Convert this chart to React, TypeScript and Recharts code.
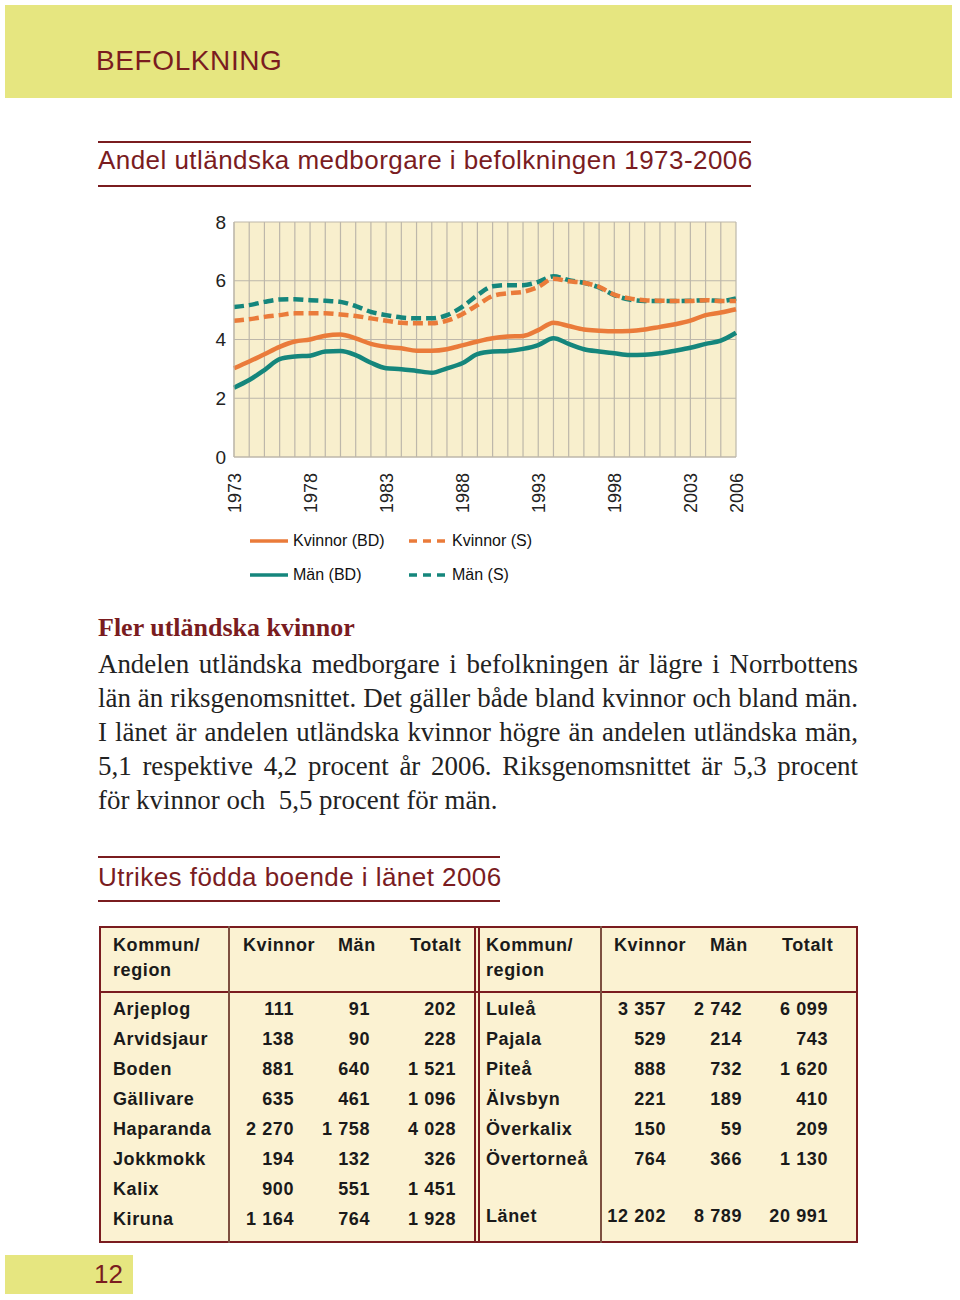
import { LineChart, Line, XAxis, YAxis, CartesianGrid } from 'recharts'

const years = [
  1973, 1974, 1975, 1976, 1977, 1978, 1979, 1980, 1981, 1982, 1983, 1984,
  1985, 1986, 1987, 1988, 1989, 1990, 1991, 1992, 1993, 1994, 1995, 1996,
  1997, 1998, 1999, 2000, 2001, 2002, 2003, 2004, 2005, 2006,
]
const kvinnorBD = [
  3.02, 3.25, 3.5, 3.75, 3.93, 4.0, 4.13, 4.17, 4.04, 3.85, 3.75, 3.7, 3.62,
  3.62, 3.67, 3.8, 3.93, 4.04, 4.1, 4.12, 4.32, 4.57, 4.46, 4.34, 4.3, 4.28,
  4.29, 4.34, 4.43, 4.52, 4.64, 4.83, 4.92, 5.03,
]
const manBD = [
  2.36, 2.62, 2.96, 3.33, 3.42, 3.45, 3.59, 3.61, 3.47, 3.21, 3.02, 2.99, 2.93,
  2.87, 3.02, 3.19, 3.5, 3.59, 3.61, 3.68, 3.81, 4.04, 3.85, 3.67, 3.59, 3.53,
  3.47, 3.48, 3.53, 3.62, 3.72, 3.85, 3.96, 4.23,
]
const kvinnorS = [
  4.64, 4.69, 4.77, 4.83, 4.89, 4.89, 4.89, 4.85, 4.8, 4.72, 4.64, 4.57, 4.55,
  4.55, 4.64, 4.86, 5.17, 5.48, 5.57, 5.62, 5.79, 6.07, 5.98, 5.93, 5.79, 5.53,
  5.4, 5.34, 5.32, 5.31, 5.31, 5.34, 5.31, 5.31,
]
const manS = [
  5.11, 5.17, 5.28, 5.36, 5.37, 5.34, 5.32, 5.28, 5.14, 4.94, 4.83, 4.75, 4.72,
  4.72, 4.83, 5.11, 5.51, 5.81, 5.85, 5.85, 5.96, 6.15, 6.02, 5.93, 5.77, 5.51,
  5.36, 5.31, 5.31, 5.31, 5.32, 5.34, 5.31, 5.4,
]
const yearTicks = [1973, 1978, 1983, 1988, 1993, 1998, 2003, 2006]
const valueTicks = [0, 2, 4, 6, 8]

const leftRegions = ['Arjeplog', 'Arvidsjaur', 'Boden', 'Gällivare', 'Haparanda', 'Jokkmokk', 'Kalix', 'Kiruna']
const leftKvinnor = ['111', '138', '881', '635', '2 270', '194', '900', '1 164']
const leftMan = ['91', '90', '640', '461', '1 758', '132', '551', '764']
const leftTotalt = ['202', '228', '1 521', '1 096', '4 028', '326', '1 451', '1 928']

const rightRegions = ['Luleå', 'Pajala', 'Piteå', 'Älvsbyn', 'Överkalix', 'Övertorneå']
const rightKvinnor = ['3 357', '529', '888', '221', '150', '764']
const rightMan = ['2 742', '214', '732', '189', '59', '366']
const rightTotalt = ['6 099', '743', '1 620', '410', '209', '1 130']
const lanet = ['Länet', '12 202', '8 789', '20 991']

const bodyLines = [
  'Andelen utländska medborgare i befolkningen är lägre i Norrbottens',
  'län än riksgenomsnittet. Det gäller både bland kvinnor och bland män.',
  'I länet är andelen utländska kvinnor högre än andelen utländska män,',
  '5,1 respektive 4,2 procent år 2006. Riksgenomsnittet är 5,3 procent',
  'för kvinnor och  5,5 procent för män.',
]

const ORANGE = '#ea7b3a'
const TEAL = '#15867c'
const DARKRED = '#7a1c1f'
const SANS = '"Liberation Sans", Arial, sans-serif'
const SERIF = '"Liberation Serif", "Times New Roman", serif'

const chartData = years.map((year, i) => ({
  year,
  kvinnorBD: kvinnorBD[i],
  manBD: manBD[i],
  kvinnorS: kvinnorS[i],
  manS: manS[i],
}))

const series = [
  { key: 'kvinnorBD', name: 'Kvinnor (BD)', color: ORANGE, dashed: false },
  { key: 'kvinnorS', name: 'Kvinnor (S)', color: ORANGE, dashed: true },
  { key: 'manBD', name: 'Män (BD)', color: TEAL, dashed: false },
  { key: 'manS', name: 'Män (S)', color: TEAL, dashed: true },
]

function YearTick(props: any) {
  const { x, y, payload } = props
  return (
    <text
      x={x + 7}
      y={y + 8}
      transform={`rotate(-90, ${x + 7}, ${y + 8})`}
      textAnchor="end"
      fontSize={18}
      fontFamily={SANS}
      fill="#222"
    >
      {payload.value}
    </text>
  )
}

function Chart() {
  return (
    <LineChart
      width={600}
      height={330}
      data={chartData}
      margin={{ top: 22, right: 34, left: 0, bottom: 0 }}
    >
      <CartesianGrid
        fill="#f8efcd"
        stroke="#bdb7aa"
        strokeWidth={1.2}
        verticalValues={years}
        horizontalValues={valueTicks}
      />
      <XAxis
        dataKey="year"
        type="number"
        domain={[1973, 2006]}
        ticks={yearTicks}
        interval={0}
        height={73}
        tick={<YearTick />}
        tickLine={false}
        axisLine={{ stroke: '#bdb7aa' }}
      />
      <YAxis
        domain={[0, 8]}
        ticks={valueTicks}
        width={64}
        tickLine={false}
        axisLine={{ stroke: '#bdb7aa' }}
        tick={{ fontSize: 19, fill: '#222', fontFamily: SANS }}
      />
      <Line type="monotone" dataKey="manS" stroke={TEAL} strokeWidth={4.5} strokeDasharray="10 5" dot={false} isAnimationActive={false} />
      <Line type="monotone" dataKey="kvinnorS" stroke={ORANGE} strokeWidth={4.5} strokeDasharray="10 5" dot={false} isAnimationActive={false} />
      <Line type="monotone" dataKey="manBD" stroke={TEAL} strokeWidth={4.5} dot={false} isAnimationActive={false} />
      <Line type="monotone" dataKey="kvinnorBD" stroke={ORANGE} strokeWidth={4.5} dot={false} isAnimationActive={false} />
    </LineChart>
  )
}

function Legend() {
  const pos = [
    { left: 250, top: 531 },
    { left: 409, top: 531 },
    { left: 250, top: 565 },
    { left: 409, top: 565 },
  ]
  return (
    <>
      {series.map((s, i) => (
        <div
          key={s.key}
          style={{ position: 'absolute', left: pos[i].left, top: pos[i].top, display: 'flex', alignItems: 'center', height: 20 }}
        >
          <svg width={40} height={6} style={{ marginRight: 3 }}>
            <line x1={0} y1={3} x2={s.dashed ? 36 : 38} y2={3} stroke={s.color} strokeWidth={3.5} strokeDasharray={s.dashed ? '8 6' : undefined} />
          </svg>
          <span style={{ fontFamily: SANS, fontSize: 16, color: '#111' }}>{s.name}</span>
        </div>
      ))}
    </>
  )
}

const cell = (text: string, left: number, top: number, align: 'left' | 'right', width = 100) => (
  <div
    key={`${left}-${top}-${text}`}
    style={{
      position: 'absolute',
      left: align === 'left' ? left : left - width,
      top,
      width,
      textAlign: align,
      fontFamily: SANS,
      fontWeight: 'bold',
      fontSize: 18,
      letterSpacing: 0.6,
      color: '#1a1a1a',
      lineHeight: '22px',
    }}
  >
    {text}
  </div>
)

function Table() {
  const top0 = 998
  const step = 30
  return (
    <div style={{ position: 'absolute', left: 0, top: 0 }}>
      <div style={{ position: 'absolute', left: 99, top: 926, width: 759, height: 317, background: '#fbf2d2', boxSizing: 'border-box', border: `2px solid ${DARKRED}` }} />
      <div style={{ position: 'absolute', left: 474, top: 926, width: 2, height: 317, background: DARKRED }} />
      <div style={{ position: 'absolute', left: 478, top: 926, width: 2, height: 317, background: DARKRED }} />
      <div style={{ position: 'absolute', left: 99, top: 991, width: 759, height: 2, background: DARKRED }} />
      <div style={{ position: 'absolute', left: 228, top: 926, width: 1.5, height: 317, background: '#7d5040' }} />
      <div style={{ position: 'absolute', left: 600, top: 926, width: 1.5, height: 317, background: '#7d5040' }} />
      {cell('Kommun/', 113, 934, 'left')}
      {cell('region', 113, 959, 'left')}
      {cell('Kvinnor', 243, 934, 'left')}
      {cell('Män', 338, 934, 'left')}
      {cell('Totalt', 410, 934, 'left')}
      {cell('Kommun/', 486, 934, 'left')}
      {cell('region', 486, 959, 'left')}
      {cell('Kvinnor', 614, 934, 'left')}
      {cell('Män', 710, 934, 'left')}
      {cell('Totalt', 782, 934, 'left')}
      {leftRegions.map((r, i) => cell(r, 113, top0 + i * step, 'left', 115))}
      {leftKvinnor.map((v, i) => cell(v, 294, top0 + i * step, 'right'))}
      {leftMan.map((v, i) => cell(v, 370, top0 + i * step, 'right'))}
      {leftTotalt.map((v, i) => cell(v, 456, top0 + i * step, 'right'))}
      {rightRegions.map((r, i) => cell(r, 486, top0 + i * step, 'left', 115))}
      {rightKvinnor.map((v, i) => cell(v, 666, top0 + i * step, 'right'))}
      {rightMan.map((v, i) => cell(v, 742, top0 + i * step, 'right'))}
      {rightTotalt.map((v, i) => cell(v, 828, top0 + i * step, 'right'))}
      {cell(lanet[0], 486, 1205, 'left')}
      {cell(lanet[1], 666, 1205, 'right')}
      {cell(lanet[2], 742, 1205, 'right')}
      {cell(lanet[3], 828, 1205, 'right')}
    </div>
  )
}

export default function App() {
  return (
    <div style={{ position: 'absolute', left: 0, top: 0, width: 960, height: 1300, background: '#fff', overflow: 'hidden' }}>
      <div style={{ position: 'absolute', left: 5, top: 5, width: 947, height: 93, background: '#e6e680' }} />
      <div style={{ position: 'absolute', left: 96, top: 45, fontFamily: SANS, fontSize: 28, letterSpacing: 0.6, color: DARKRED }}>BEFOLKNING</div>

      <div style={{ position: 'absolute', left: 98, top: 141, width: 653, height: 1.5, background: DARKRED }} />
      <div style={{ position: 'absolute', left: 98, top: 145, fontFamily: SANS, fontSize: 26, letterSpacing: 0.45, color: DARKRED }}>
        Andel utländska medborgare i befolkningen 1973-2006
      </div>
      <div style={{ position: 'absolute', left: 98, top: 185, width: 653, height: 1.5, background: DARKRED }} />

      <div style={{ position: 'absolute', left: 170, top: 200 }}>
        <Chart />
      </div>
      <Legend />

      <div style={{ position: 'absolute', left: 98, top: 613, fontFamily: SERIF, fontWeight: 'bold', fontSize: 26, color: DARKRED }}>
        Fler utländska kvinnor
      </div>
      {bodyLines.map((line, i) => (
        <div
          key={i}
          style={{
            position: 'absolute',
            left: 98,
            top: 648 + i * 34,
            width: 760,
            fontFamily: SERIF,
            fontSize: 26.9,
            lineHeight: '32px',
            color: '#222',
            textAlign: 'justify',
            textAlignLast: i < bodyLines.length - 1 ? 'justify' : 'left',
            whiteSpace: 'pre',
          }}
        >
          {line}
        </div>
      ))}

      <div style={{ position: 'absolute', left: 98, top: 856, width: 402, height: 1.5, background: DARKRED }} />
      <div style={{ position: 'absolute', left: 98, top: 862, fontFamily: SANS, fontSize: 26, letterSpacing: 0.45, color: DARKRED }}>
        Utrikes födda boende i länet 2006
      </div>
      <div style={{ position: 'absolute', left: 98, top: 900, width: 402, height: 1.5, background: DARKRED }} />

      <Table />

      <div style={{ position: 'absolute', left: 5, top: 1255, width: 128, height: 39, background: '#e6e680' }} />
      <div style={{ position: 'absolute', left: 94, top: 1259, fontFamily: SANS, fontSize: 26, color: DARKRED }}>12</div>
    </div>
  )
}
